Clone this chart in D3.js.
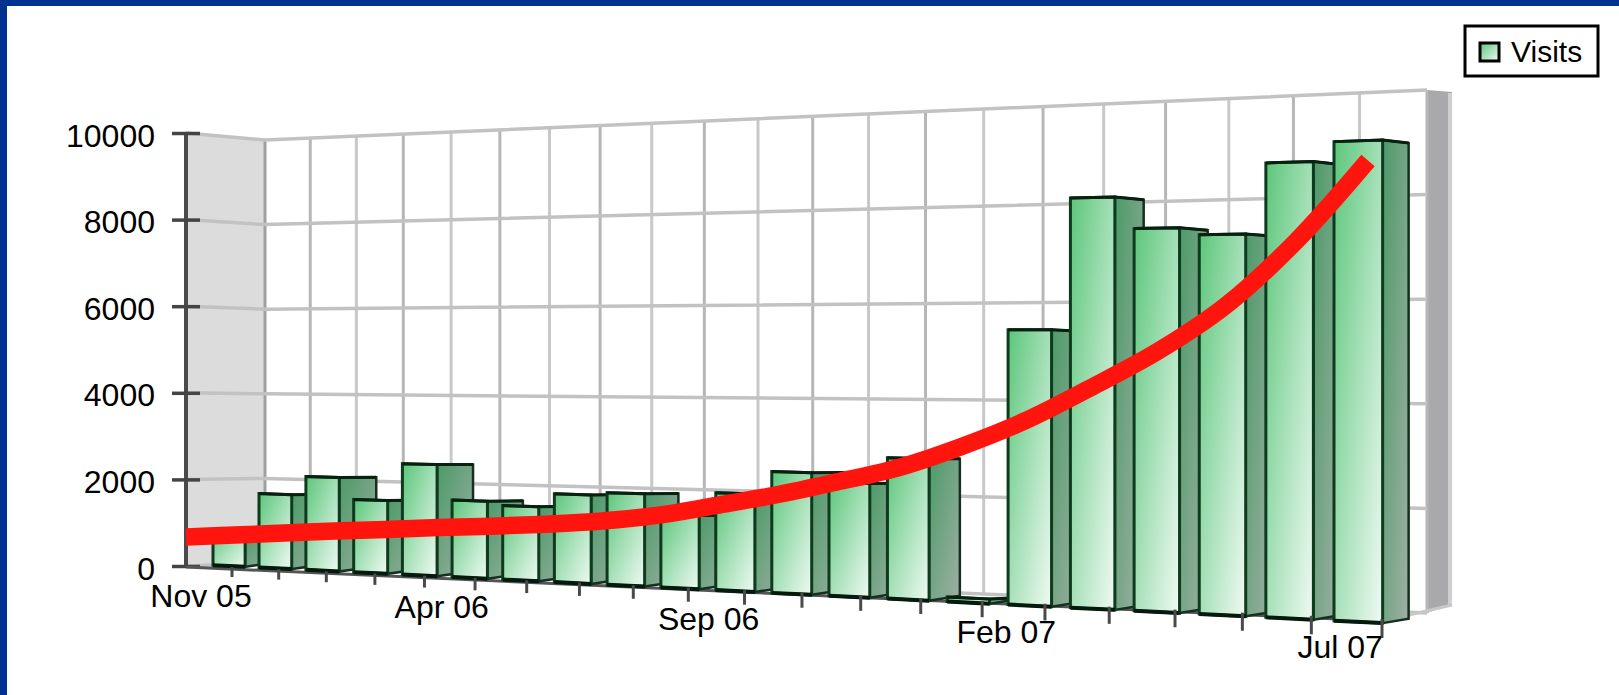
<!DOCTYPE html>
<html lang="en">
<head>
    <meta charset="UTF-8">
    <title>Visits</title>
    <script src="https://d3js.org/d3.v7.min.js"></script>
    <style>
        html, body { margin: 0; padding: 0; background: #fff; overflow: hidden; }
        text { font-family: "Liberation Sans", Arial, sans-serif; fill: #000; }
        .tick-label { font-size: 32px; }
    </style>
</head>
<body>
    <div id="chart"></div>
    <script>
        // Values
        const months = ["Nov 05", "Dec 05", "Jan 06", "Feb 06", "Mar 06", "Apr 06", "May 06", "Jun 06", "Jul 06", "Aug 06", "Sep 06",
                        "Oct 06", "Nov 06", "Dec 06", "Jan 07", "Feb 07", "Mar 07", "Apr 07", "May 07", "Jun 07", "Jul 07"];
        const visits = [800, 1690, 2110, 1630, 2460, 1690, 1610, 1900, 1960, 1540, 2030,
                        2500, 2310, 2840, 90, 5420, 7990, 7370, 7230, 8560, 8920];
        const trend = [625, 720, 810, 905, 985, 1075, 1150, 1240, 1350, 1520, 1765,
                       2020, 2320, 2640, 3090, 3625, 4290, 5000, 5880, 7080, 8550];
        const yTicks = [0, 2000, 4000, 6000, 8000, 10000];
        const xLabels = ["Nov 05", "Apr 06", "Sep 06", "Feb 07", "Jul 07"];
        const seriesName = "Visits";

        const width = 1619, height = 695;
        const svg = d3.select("#chart").append("svg")
            .attr("width", width).attr("height", height)
            .style("display", "block");

        // Page frame
        svg.append("rect").attr("width", width).attr("height", 6).attr("fill", "#003391");
        svg.append("rect").attr("width", 7).attr("height", height).attr("fill", "#003391");

        // Fake perspective: columns get wider to the right
        const warp = c => s => s / (1 - c * s);
        const warpScale = (c, n, a, b) => {
            const w = warp(c);
            const sc = d3.scaleLinear().domain([0, w(n)]).range([a, b]);
            return s => sc(w(s));
        };
        const barX = warpScale(0.00934, 20, 213, 1334);
        const tickX = warpScale(0.0098, 20, 232, 1382);
        const lineX = warpScale(0.0093, 20, 186, 1368);
        const gridX = warpScale(0.00902, 21, 265, 1427);

        const frontBase = d3.scaleLinear().domain([229, 1360]).range([566, 622]);
        const frontTop = d3.scaleLinear().domain([186, 1360]).range([133, 82.5]);
        const backBase = d3.scaleLinear().domain([265, 1427]).range([563, 613]);
        const backTop = d3.scaleLinear().domain([265, 1427]).range([140, 90]);
        const yFront = (x, v) => d3.scaleLinear().domain([0, 10000]).range([frontBase(x), frontTop(x)])(v);
        const yBack = (x, v) => d3.scaleLinear().domain([0, 10000]).range([backBase(x), backTop(x)])(v);
        const yAxis = d3.scaleLinear().domain([0, 10000]).range([566, 133]);

        // Depth of a column: narrows to the right, edges lean slightly
        const depth = d3.scaleLinear().domain([340, 1382]).range([37, 26]);
        const leanTop = (y, dx) => (463 - y) * 0.00036 * dx;
        const leanBottom = (y, dx) => (302 - y) * 0.00053 * dx;

        const defs = svg.append("defs");
        const gradient = (id, stops) => {
            const g = defs.append("linearGradient").attr("id", id)
                .attr("x1", 0).attr("y1", 0).attr("x2", 1).attr("y2", 1);
            stops.forEach(s => g.append("stop").attr("offset", s[0]).attr("stop-color", s[1]));
        };
        gradient("front", [[0, "#5cc67a"], [0.5, "#a6e0b8"], [1, "#f0faf3"]]);
        gradient("side", [[0, "#4c9a68"], [1, "#9fb0a4"]]);

        const walls = svg.append("g");
        const pts = a => a.map(p => p.join(",")).join(" ");

        // Left wall
        walls.append("polygon")
            .attr("points", pts([[186, yAxis(10000)], [265, backTop(265)], [265, backBase(265)], [186, yAxis(0)]]))
            .attr("fill", "#dcdcdc");

        // Right edge of the box
        walls.append("polygon")
            .attr("points", pts([[1427, backTop(1427)], [1452, backTop(1427) + 2], [1452, 604], [1427, backBase(1427)]]))
            .attr("fill", "#a9a9ab");
        walls.append("line")
            .attr("x1", 1450).attr("x2", 1450).attr("y1", backTop(1427) + 3).attr("y2", 605)
            .attr("stroke", "#cfcfcf").attr("stroke-width", 4);

        // Grid on the back and left walls
        const grid = walls.append("g").attr("stroke", "#c2c2c2").attr("fill", "none");
        grid.selectAll(".v").data(d3.range(0, 22)).enter().append("line")
            .attr("x1", k => gridX(k)).attr("x2", k => gridX(k))
            .attr("y1", k => backTop(gridX(k))).attr("y2", k => backBase(gridX(k)))
            .attr("stroke", k => k === 0 ? "#a0a0a0" : (k % 2 ? "#b6b6b6" : "#c8c8c8"))
            .attr("stroke-width", 3);
        grid.selectAll(".h").data(yTicks).enter().append("polyline")
            .attr("points", v => pts([[186, yAxis(v)], [265, yBack(265, v)], [1427, yBack(1427, v)]]))
            .attr("stroke-width", 3.5);

        // Left axis
        walls.append("line")
            .attr("x1", 186).attr("x2", 186).attr("y1", yAxis(10000)).attr("y2", yAxis(0))
            .attr("stroke", "#4a4a4a").attr("stroke-width", 4);
        const axisG = svg.append("g").attr("transform", "translate(186,0)")
            .call(d3.axisLeft(yAxis).tickValues(yTicks).tickFormat(d => d).tickSize(14).tickPadding(17));
        axisG.select(".domain").remove();
        axisG.selectAll(".tick line").attr("x2", 14).attr("x1", -14).attr("stroke", "#444").attr("stroke-width", 3.5);
        axisG.selectAll(".tick text").attr("class", "tick-label").attr("dy", "0.41em");
        axisG.selectAll("text").style("font-size", "32px").style("font-family", '"Liberation Sans", Arial, sans-serif');

        // Floor edge
        const floorY = d3.scaleLinear().domain([186, 1383]).range([567, 621]);
        svg.append("line")
            .attr("x1", 186).attr("y1", floorY(186)).attr("x2", 1383).attr("y2", floorY(1383))
            .attr("stroke", "#555").attr("stroke-width", 3);
        svg.append("line")
            .attr("x1", 1383).attr("y1", floorY(1383)).attr("x2", 1452).attr("y2", 605)
            .attr("stroke", "#c8c8c8").attr("stroke-width", 3);

        // Columns, left to right so the later ones cover the sides of the earlier ones
        const bars = svg.selectAll(".bar").data(visits).enter().append("g").attr("class", "bar");
        bars.each(function (v, i) {
            const g = d3.select(this);
            const l = barX(i), r = barX(i + 0.7);
            const dx = depth(r);
            const tl = yFront(l, v), tr = yFront(r, v), bl = frontBase(l), br = frontBase(r);
            const backT = tr + leanTop(tr, dx), backB = br + leanBottom(br, dx);
            g.append("polygon")
                .attr("points", pts([[r, tr], [r + dx, backT], [r + dx, backB], [r, br]]))
                .attr("fill", "url(#side)").attr("stroke", "#16301f").attr("stroke-width", 2.5);
            g.append("polygon")
                .attr("points", pts([[l, tl], [r, tr], [r, br], [l, bl]]))
                .attr("fill", "url(#front)").attr("stroke", "#0e3a1e").attr("stroke-width", 3);
            // heavier edges along the top and the bottom
            g.append("polyline")
                .attr("points", pts([[l, tl], [r, tr], [r + dx, backT]]))
                .attr("fill", "none").attr("stroke", "#07200f").attr("stroke-width", 3);
            g.append("line")
                .attr("x1", l).attr("y1", bl).attr("x2", r).attr("y2", br)
                .attr("stroke", "#051a0c").attr("stroke-width", 4);
        });

        // Bottom ticks
        const ticks = svg.selectAll(".xt").data(months).enter().append("line")
            .attr("x1", (d, i) => tickX(i)).attr("x2", (d, i) => tickX(i))
            .attr("y1", (d, i) => floorY(tickX(i)) - 2)
            .attr("y2", (d, i) => floorY(tickX(i)) + 8 + i * 0.45)
            .attr("stroke", "#4a4a4a").attr("stroke-width", 3);

        svg.selectAll(".xl").data(xLabels).enter().append("text")
            .attr("class", "tick-label")
            .attr("text-anchor", "middle")
            .attr("x", d => {
                const x = tickX(months.indexOf(d));
                return x - (31 + 0.0095 * (x - 232));
            })
            .attr("y", d => floorY(tickX(months.indexOf(d))) + 37.5)
            .text(d => d);

        // Trend line
        const line = d3.line()
            .x((d, i) => lineX(i))
            .y((d, i) => yFront(lineX(i), d))
            .curve(d3.curveCatmullRom.alpha(0.5));
        svg.append("path").datum(trend)
            .attr("d", line)
            .attr("fill", "none")
            .attr("stroke", "#ff140e")
            .attr("stroke-width", 17.5);

        // Legend
        const legend = svg.append("g");
        legend.append("rect")
            .attr("x", 1465).attr("y", 26).attr("width", 133).attr("height", 50)
            .attr("fill", "#fff").attr("stroke", "#000").attr("stroke-width", 3);
        legend.append("rect")
            .attr("x", 1480).attr("y", 43).attr("width", 19).attr("height", 18)
            .attr("fill", "url(#front)").attr("stroke", "#000").attr("stroke-width", 3);
        legend.append("text")
            .attr("x", 1511).attr("y", 62)
            .style("font-size", "30px")
            .text(seriesName);
    </script>
</body>
</html>
